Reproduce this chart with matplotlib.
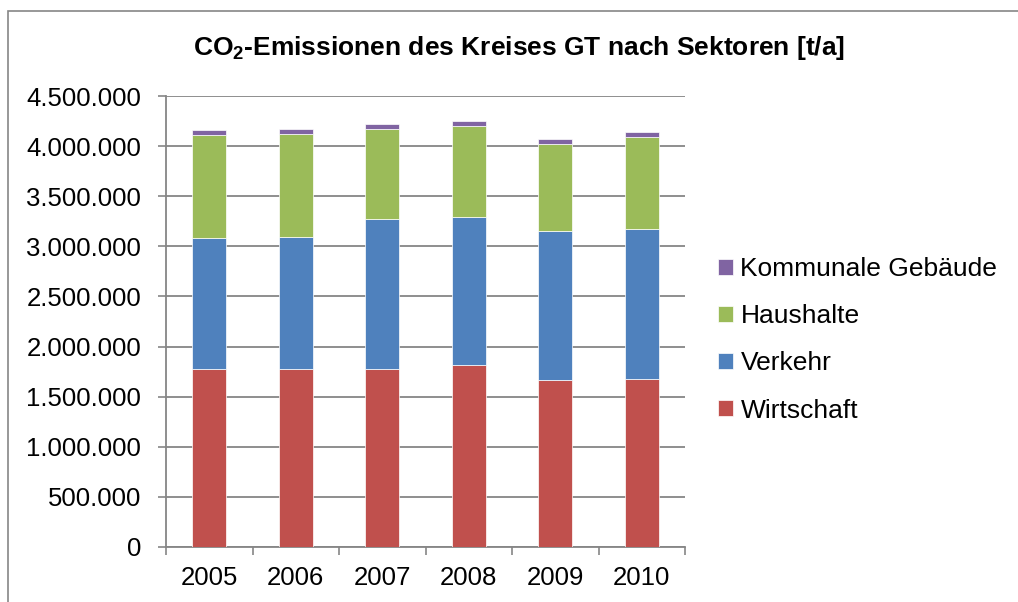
import matplotlib
matplotlib.use("Agg")
import matplotlib.pyplot as plt
from matplotlib.ticker import FuncFormatter, FixedLocator
from matplotlib.patches import Rectangle
import numpy as np

years = ["2005", "2006", "2007", "2008", "2009", "2010"]
wirtschaft = [1780000, 1780000, 1780000, 1817000, 1663000, 1677000]
verkehr = [1299000, 1316000, 1488000, 1471000, 1486000, 1492000]
haushalte = [1030000, 1023000, 907000, 914000, 871000, 924000]
kommunale = [47000, 50000, 44000, 46000, 50000, 43000]
series_names = ["Wirtschaft", "Verkehr", "Haushalte", "Kommunale Gebäude"]
colors = ["#C0504D", "#4F81BD", "#9BBB59", "#8064A2"]

plt.rcParams['font.family'] = ['Liberation Sans', 'DejaVu Sans']
plt.rcParams['mathtext.fontset'] = 'custom'
plt.rcParams['mathtext.bf'] = 'Liberation Sans:bold'
plt.rcParams['mathtext.rm'] = 'Liberation Sans'

W, H = 1018, 602
fig = plt.figure(figsize=(W / 100, H / 100), dpi=100)

# outer chart frame
fig.patches.append(Rectangle((8 / W, -0.1), 1.2, (H - 11) / H + 0.1, transform=fig.transFigure,
                             fill=False, edgecolor="#868686", linewidth=1.2))

ax = fig.add_axes([166 / W, 1 - 547 / H, (685 - 166) / W, (547 - 96) / H])
x = np.arange(len(years))
bottom = np.zeros(len(years))
handles = []
for vals, name, c in zip([wirtschaft, verkehr, haushalte, kommunale], series_names, colors):
    b = ax.bar(x, vals, width=0.39, bottom=bottom, color=c, edgecolor="white",
               linewidth=0.5, label=name, zorder=3)
    handles.append(b)
    bottom += np.array(vals)

ax.set_xlim(-0.5, len(years) - 0.5)
ax.set_ylim(0, 4500000)
ax.set_yticks(np.arange(0, 4500001, 500000))
ax.yaxis.set_major_formatter(FuncFormatter(lambda v, p: f"{int(v):,}".replace(",", ".")))
ax.set_xticks(x)
ax.set_xticklabels(years)
ax.xaxis.set_minor_locator(FixedLocator(np.arange(-0.5, len(years), 1.0)))
ax.tick_params(axis="x", which="major", length=0, pad=14, labelsize=18.5)
ax.tick_params(axis="x", which="minor", length=6, width=1.2, color="#868686")
ax.tick_params(axis="y", length=6, width=1.2, color="#868686", labelsize=18.5, pad=12)
ax.grid(axis="y", color="#868686", linewidth=1.3, zorder=0)
for s in ["top", "right"]:
    ax.spines[s].set_visible(False)
for s in ["left", "bottom"]:
    ax.spines[s].set_color("#868686")
    ax.spines[s].set_linewidth(1.3)

fig.text(519 / W, 1 - 48 / H, r"$\mathbf{CO_2}$" + "-Emissionen des Kreises GT nach Sektoren [t/a]",
         ha="center", va="center", fontsize=19, fontweight="bold")

fig.legend(handles[::-1], series_names[::-1], loc="upper left",
           bbox_to_anchor=(718 / W, 1 - 257 / H), frameon=False, fontsize=19,
           handlelength=0.55, handleheight=0.55, handletextpad=0.3, labelspacing=0.88,
           borderaxespad=0, borderpad=0)

fig.savefig("out.png", dpi=100)
